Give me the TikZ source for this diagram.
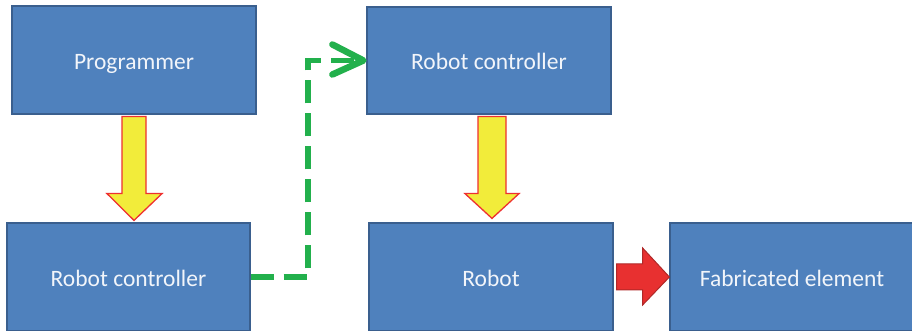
\documentclass[tikz,border=0pt]{standalone}
\usepackage{fontspec}
\setmainfont{Carlito}
\usetikzlibrary{arrows.meta,calc}

\definecolor{boxfill}{HTML}{4F81BD}
\definecolor{boxline}{HTML}{3A5F8E}
\definecolor{boxtext}{HTML}{F2F5FA}
\definecolor{flowyellow}{HTML}{F2EC3A}
\definecolor{flowred}{HTML}{EE3030}
\definecolor{redfill}{HTML}{E83030}
\definecolor{redline}{HTML}{B02828}
\definecolor{linkgreen}{HTML}{22B04C}

\tikzset{
  block/.style={draw=boxline, line width=1.2pt, fill=boxfill, text=boxtext,
    font=\fontsize{23.5}{28}\selectfont, inner sep=0pt,
    text height=21pt, text depth=2pt},
  yellowarrow/.style={draw=flowred, fill=flowyellow, line width=1.3pt, line join=miter},
  redarrow/.style={draw=redline, fill=redfill, line width=1pt, line join=miter},
  greenlink/.style={draw=linkgreen, line width=5.5pt, dash pattern=on 23pt off 10pt},
  chevron/.style={draw=linkgreen, line width=6.5pt, line cap=round, line join=round}
}

\begin{document}
\begin{tikzpicture}[x=1pt, y=1pt]
  \useasboundingbox[fill=white] (0,0) rectangle (912,331);

  % boxes
  \node[block, minimum width=244pt, minimum height=108pt] (prog) at (134,271) {Programmer};
  \node[block, minimum width=243pt, minimum height=108pt] (ctrlA) at (128.5,54) {Robot controller};
  \node[block, minimum width=244pt, minimum height=107pt] (ctrlB) at (489,270.5) {Robot controller};
  \node[block, minimum width=244pt, minimum height=108pt] (robot) at (491,54) {Robot};
  \node[block, minimum width=244pt, minimum height=108pt] (fab) at (792,54) {Fabricated element};

  % block arrows
  \draw[yellowarrow]
    ($(prog.south)+(-12,-2)$) -- ($(prog.south)+(12,-2)$) --
    ($(prog.south)+(12,-79)$) -- ($(prog.south)+(28,-79)$) --
    ($(ctrlA.north)+(5.5,2)$) --
    ($(prog.south)+(-27,-79)$) -- ($(prog.south)+(-12,-79)$) -- cycle;
  \draw[yellowarrow]
    ($(ctrlB.south)+(-11,-2)$) -- ($(ctrlB.south)+(17,-2)$) --
    ($(ctrlB.south)+(17,-79)$) -- ($(ctrlB.south)+(30,-79)$) --
    ($(robot.north)+(1,4)$) --
    ($(ctrlB.south)+(-24,-79)$) -- ($(ctrlB.south)+(-11,-79)$) -- cycle;
  \draw[redarrow]
    ($(robot.east)+(3,13)$) -- ($(robot.east)+(29,13)$) --
    ($(robot.east)+(29,29)$) -- (fab.west) --
    ($(robot.east)+(29,-28)$) -- ($(robot.east)+(29,-13)$) --
    ($(robot.east)+(3,-13)$) -- cycle;

  % dashed link between controllers, ending in an open chevron
  \coordinate (bend) at (308,0);
  \coordinate (tip) at ($(ctrlB.west)+(-3,0)$);
  \draw[greenlink] (ctrlA.east) -| (bend |- ctrlB.west) -- ($(tip)+(-8,0)$);
  \draw[chevron] ($(tip)+(-31,16)$) -- (tip) -- ($(tip)+(-31,-14)$);
\end{tikzpicture}
\end{document}
